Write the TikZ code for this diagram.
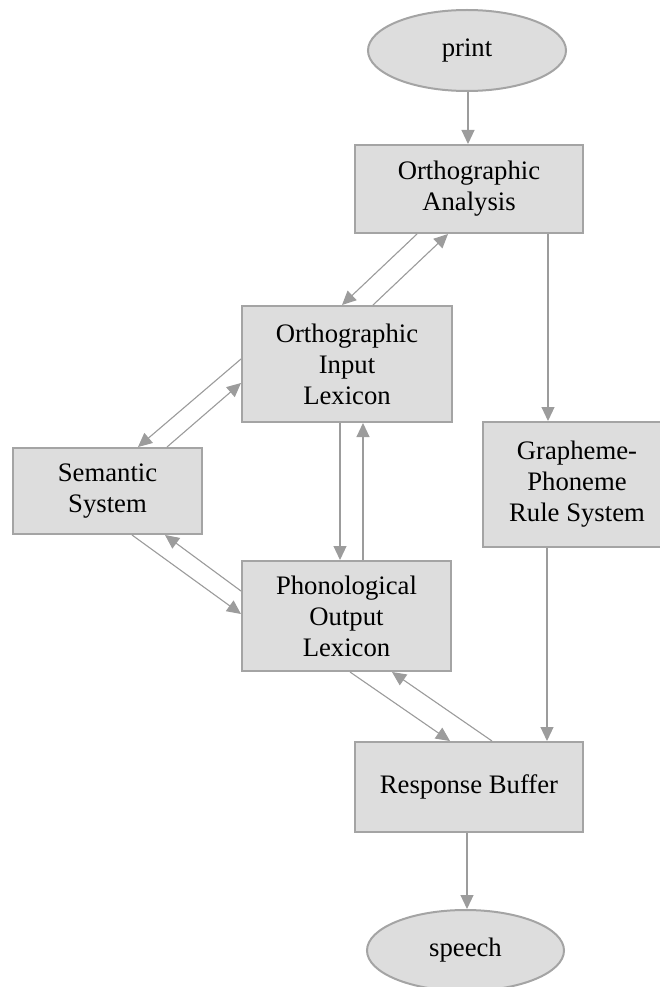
\documentclass[tikz,border=0pt]{standalone}
\usepackage{fontspec}
\setmainfont{Liberation Serif}
\usetikzlibrary{shapes.geometric,arrows.meta}
\definecolor{boxfill}{HTML}{DDDDDD}
\definecolor{boxline}{HTML}{A4A4A4}
\definecolor{wire}{HTML}{9C9C9C}
\tikzset{
  lbl/.style={font=\fontsize{26.7}{31}\selectfont, align=center, inner sep=0pt},
  stage/.style={lbl, rectangle, draw=boxline, fill=boxfill, line width=2pt},
  term/.style={lbl, ellipse, draw=boxline, fill=boxfill, line width=2pt},
  link/.style={draw=wire, line width=1.1pt, -{Triangle[length=14pt,width=13pt]}, fill=wire},
}
\begin{document}
\begin{tikzpicture}[x=1pt,y=-1pt]
\useasboundingbox (0,0) rectangle (660,987);
\clip (0,0) rectangle (660,987);

% modules of the dual-route reading model
\node[term, minimum width=198pt, minimum height=81pt]  (print)  at (467,50.5)  {print};
\node[stage, minimum width=228pt, minimum height=88pt] (oa)     at (469,189)   {Orthographic\\Analysis};
\node[stage, minimum width=210pt, minimum height=116pt](oil)    at (347,364)   {Orthographic\\Input\\Lexicon};
\node[stage, minimum width=189pt, minimum height=86pt] (sem)    at (107.5,491) {Semantic\\System};
\node[stage, minimum width=188pt, minimum height=125pt](gpc)    at (577,484.5) {Grapheme-\\Phoneme\\Rule System};
\node[stage, minimum width=209pt, minimum height=110pt](pol)    at (346.5,616) {Phonological\\Output\\Lexicon};
\node[stage, minimum width=228pt, minimum height=90pt] (rb)     at (469,787)   {Response Buffer};
\node[term, minimum width=197pt, minimum height=81pt]  (speech) at (465.5,950.5) {speech};

% input side
\draw[link] ([xshift=1pt]print.south) -- ([xshift=1pt]print.south |- oa.north);
\draw[link] ([xshift=-52pt]oa.south) -- ([xshift=-5pt]oil.north);
\draw[link] ([xshift=26pt]oil.north) -- ([xshift=-21pt]oa.south);

% lexical / semantic route
\draw[link] ([yshift=5pt]oil.west) -- ([xshift=30.5pt]sem.north);
\draw[link] ([xshift=59.5pt]sem.north) -- ([yshift=-19pt]oil.west);
\draw[link] ([xshift=-7pt]oil.south) -- ([xshift=-7pt]oil.south |- pol.north);
\draw[link] ([xshift=16.5pt]pol.north) -- ([xshift=16.5pt]pol.north |- oil.south);
\draw[link] ([xshift=24.5pt]sem.south) -- ([yshift=2pt]pol.west);
\draw[link] ([yshift=25pt]pol.west) -- ([xshift=57.5pt]sem.south);
\draw[link] ([xshift=3.5pt]pol.south) -- ([xshift=-19pt]rb.north);
\draw[link] ([xshift=23pt]rb.north) -- ([xshift=45.5pt]pol.south);

% sublexical route
\draw[link] ([xshift=79pt]oa.south) -- ([xshift=79pt]oa.south |- gpc.north);
\draw[link] ([xshift=-30pt]gpc.south) -- ([xshift=-30pt]gpc.south |- rb.north);

% output
\draw[link] ([xshift=-2pt]rb.south) -- ([xshift=-2pt]rb.south |- speech.north);
\end{tikzpicture}
\end{document}
